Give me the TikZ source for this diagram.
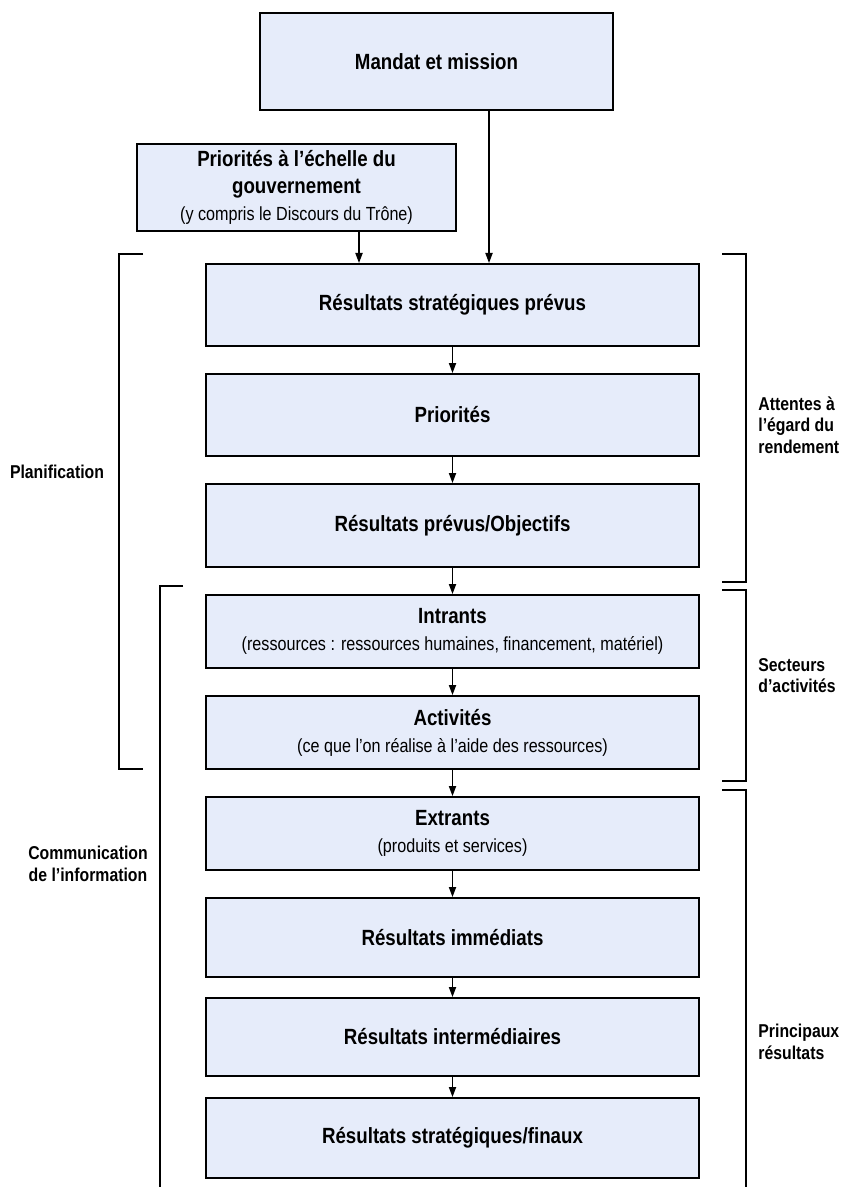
\documentclass[tikz,border=0pt]{standalone}
\usepackage{fontspec}
\setmainfont{Liberation Sans}[FakeStretch=0.85]
\usetikzlibrary{positioning,arrows.meta}
\definecolor{boxfill}{RGB}{230,236,250}
\newcommand{\subtxt}[1]{{\fontsize{9.5}{11}\selectfont\mdseries #1}}

\begin{document}
\begin{tikzpicture}[x=0.5pt,y=-0.5pt,
  box/.style={draw,line width=1pt,fill=boxfill,align=center,inner sep=2pt,
    minimum width=246.5pt,font=\fontsize{11}{13.5}\selectfont\bfseries},
  arr/.style={-{Stealth[length=5pt,width=3.6pt,inset=0pt]},line width=0.65pt},
  brk/.style={line width=1pt},
  side/.style={font=\fontsize{9.3}{10.8}\selectfont\bfseries,inner sep=0pt}]
\useasboundingbox (0,0) rectangle (840,1187);
% top boxes
\node[box,minimum width=176.5pt,minimum height=48.5pt] (mandat) at (436.5,61.5) {Mandat et mission};
\node[box,minimum width=159.5pt,minimum height=43.5pt] (gouv) at (296.5,187.5)
  {Priorités à l’échelle du\\gouvernement\\\subtxt{(y compris le Discours du Trône)}};
% main column
\foreach \n/\c/\h/\t in {rsp/305/82/{Résultats stratégiques prévus},
    prio/415/82/{Priorités},
    rpo/525.5/83/{Résultats prévus/Objectifs},
    intr/631.5/73/{Intrants\\\subtxt{(ressources : ressources humaines, financement, matériel)}},
    act/732.5/73/{Activités\\\subtxt{(ce que l’on réalise à l’aide des ressources)}},
    extr/833.5/73/{Extrants\\\subtxt{(produits et services)}},
    imm/937.5/79/{Résultats immédiats},
    inter/1037/78/{Résultats intermédiaires},
    fin/1138/80/{Résultats stratégiques/finaux}}{
  \node[box,minimum height=\h*0.5pt] (\n) at (452.5,\c) {\t};
}
\coordinate (gx) at (359,0);
\coordinate (mx) at (489,0);
\draw[arr] (gouv.south -| gx) -- (rsp.north -| gx);
\draw[arr] (mandat.south -| mx) -- (rsp.north -| mx);
\foreach \a/\b in {rsp/prio,prio/rpo,rpo/intr,intr/act,act/extr,extr/imm,imm/inter,inter/fin}{
  \draw[arr] (\a.south) -- (\b.north);
}
% brackets
\draw[brk] (143,254) -- (119,254) -- (119,769) -- (143,769);
\draw[brk] (183,586) -- (160,586) -- (160,1187);
\draw[brk] (722,254) -- (746,254) -- (746,582) -- (722,582);
\draw[brk] (722,590) -- (746,590) -- (746,781) -- (722,781);
\draw[brk] (722,790) -- (746,790) -- (746,1187);
% bracket labels
\node[side] (planif) at (57,472) {Planification};
\node[side,align=center] (comm) at (88,864) {Communication\\de l’information};
\node[side,anchor=west,align=left] (attentes) at (758,425) {Attentes à\\l’égard du\\rendement};
\node[side,anchor=west,align=left] (secteurs) at (758,675.5) {Secteurs\\d’activités};
\node[side,anchor=west,align=left] (princ) at (758,1042) {Principaux\\résultats};
\end{tikzpicture}
\end{document}
